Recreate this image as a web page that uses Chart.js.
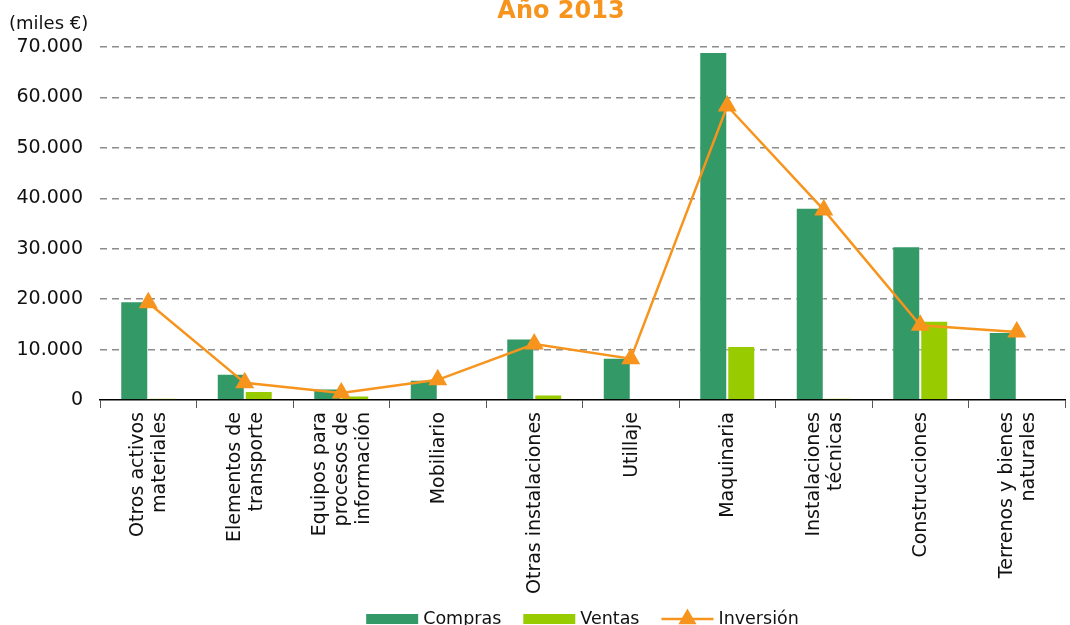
<!DOCTYPE html>
<html>
<head>
<meta charset="utf-8">
<script src="https://cdn.jsdelivr.net/npm/chart.js@4"></script>
<style>
  html, body { margin: 0; padding: 0; background: #fff; }
  #wrap { width: 1070px; height: 625px; }
</style>
</head>
<body>
<div id="wrap"><canvas id="chart" width="1070" height="625"></canvas></div>
<script>
const categories = [
	["Otros activos", "materiales"],
	["Elementos de", "transporte"],
	["Equipos para", "procesos de", "información"],
	"Mobiliario",
	"Otras instalaciones",
	"Utillaje",
	"Maquinaria",
	["Instalaciones", "técnicas"],
	"Construcciones",
	["Terrenos y bienes", "naturales"],
];
const compras = [19600, 5200, 2300, 4000, 12200, 8400, 69000, 38100, 30500, 13500];
const ventas = [350, 1800, 900, 0, 1100, 150, 10700, 350, 15700, 0];
const inversion = [19300, 3400, 1400, 4000, 11100, 8200, 58300, 37700, 14800, 13500];
const yTicks = [0, 10000, 20000, 30000, 40000, 50000, 60000, 70000];

const FONT = "'DejaVu Sans', sans-serif";
const ORANGE = "#F7941D";

// title, unit label, x labels and legend are drawn by hand
const extras = {
	id: "extras",
	afterDraw(chart) {
		const ctx = chart.ctx;
		ctx.save();
		ctx.fillStyle = ORANGE;
		ctx.font = "bold 24px " + FONT;
		ctx.textAlign = "center";
		ctx.textBaseline = "alphabetic";
		ctx.fillText("Año 2013", 561, 18);

		ctx.fillStyle = "#111";
		ctx.font = "18px " + FONT;
		ctx.textAlign = "left";
		ctx.textBaseline = "middle";
		ctx.fillText("(miles €)", 9, 24);

		// x labels, vertical, multi-line block centred on the category
		const xs = chart.scales.x;
		const lh = 22;
		ctx.font = "19px " + FONT;
		ctx.textAlign = "right";
		ctx.textBaseline = "middle";
		chart.data.labels.forEach((lab, i) => {
			const lines = Array.isArray(lab) ? lab : [lab];
			const px = xs.getPixelForValue(i);
			ctx.save();
			ctx.translate(px, chart.chartArea.bottom + 12);
			ctx.rotate(-Math.PI / 2);
			lines.forEach((t, j) => {
				ctx.fillText(t, 0, (j - (lines.length - 1) / 2) * lh + 1);
			});
			ctx.restore();
		});

		// legend
		const ds = chart.data.datasets.slice().sort((a, b) => a.legendPos - b.legendPos);
		const boxW = 52, gap = 5, itemGap = 22, ly = 619;
		ctx.font = "17.5px " + FONT;
		ctx.textAlign = "left";
		let total = 0;
		ds.forEach((d, i) => {
			total += boxW + gap + ctx.measureText(d.label).width;
			if (i < ds.length - 1) total += itemGap;
		});
		let x = (chart.chartArea.left + chart.chartArea.right) / 2 - total / 2;
		ds.forEach((d) => {
			if (d.type === "line") {
				ctx.strokeStyle = d.borderColor;
				ctx.lineWidth = 2.5;
				ctx.beginPath();
				ctx.moveTo(x, ly);
				ctx.lineTo(x + boxW, ly);
				ctx.stroke();
				ctx.fillStyle = d.borderColor;
				ctx.strokeStyle = d.borderColor;
				Chart.helpers.drawPoint(ctx, { pointStyle: "triangle", radius: 8, rotation: 0, borderWidth: 1 }, x + boxW / 2, ly);
			} else {
				ctx.fillStyle = d.backgroundColor;
				ctx.fillRect(x, ly - 5, boxW, 10);
			}
			ctx.fillStyle = "#111";
			ctx.fillText(d.label, x + boxW + gap, ly);
			x += boxW + gap + ctx.measureText(d.label).width + itemGap;
		});
		ctx.restore();
	},
};

new Chart(document.getElementById("chart"), {
	data: {
		labels: categories,
		datasets: [
			{
				type: "line",
				label: "Inversión",
				legendPos: 2,
				data: inversion,
				borderColor: ORANGE,
				backgroundColor: ORANGE,
				borderWidth: 2.5,
				pointStyle: "triangle",
				pointRadius: 8.5,
				pointBackgroundColor: ORANGE,
				pointBorderColor: ORANGE,
				tension: 0,
				order: 0,
			},
			{
				type: "bar",
				label: "Compras",
				legendPos: 0,
				data: compras,
				backgroundColor: "#339966",
				borderColor: "rgba(255,255,255,0.45)",
				borderWidth: 1,
				order: 1,
			},
			{
				type: "bar",
				label: "Ventas",
				legendPos: 1,
				data: ventas,
				backgroundColor: "#99CC00",
				borderColor: "rgba(255,255,255,0.45)",
				borderWidth: 1,
				order: 1,
			},
		],
	},
	options: {
		responsive: false,
		animation: false,
		layout: { autoPadding: false, padding: { top: 47, left: 10, right: 5, bottom: 25 } },
		plugins: {
			legend: { display: false },
			title: { display: false },
			tooltip: { enabled: false },
		},
		datasets: {
			bar: { categoryPercentage: 0.58, barPercentage: 1 },
		},
		scales: {
			x: {
				afterFit: (scale) => { scale.height = 200; },
				border: { display: true, color: "#000", width: 1.5 },
				grid: {
					offset: true,
					drawOnChartArea: false,
					drawTicks: true,
					tickLength: 8,
					color: "#555",
					lineWidth: 1,
				},
				ticks: { display: false, autoSkip: false },
			},
			y: {
				min: 0,
				max: 70000,
				afterFit: (scale) => { scale.width = 90; },
				afterBuildTicks: (scale) => { scale.ticks = yTicks.map((v) => ({ value: v })); },
				border: { display: false, dash: [7, 5] },
				grid: {
					drawTicks: false,
					color: (c) => (c.tick && c.tick.value === 0 ? "rgba(0,0,0,0)" : "#8c8c8c"),
					lineWidth: 1.5,
				},
				ticks: {
					padding: 17,
					color: "#111",
					font: { family: FONT, size: 19 },
					callback: (v) => v.toLocaleString("de-DE"),
				},
			},
		},
	},
	plugins: [extras],
});
</script>
</body>
</html>
